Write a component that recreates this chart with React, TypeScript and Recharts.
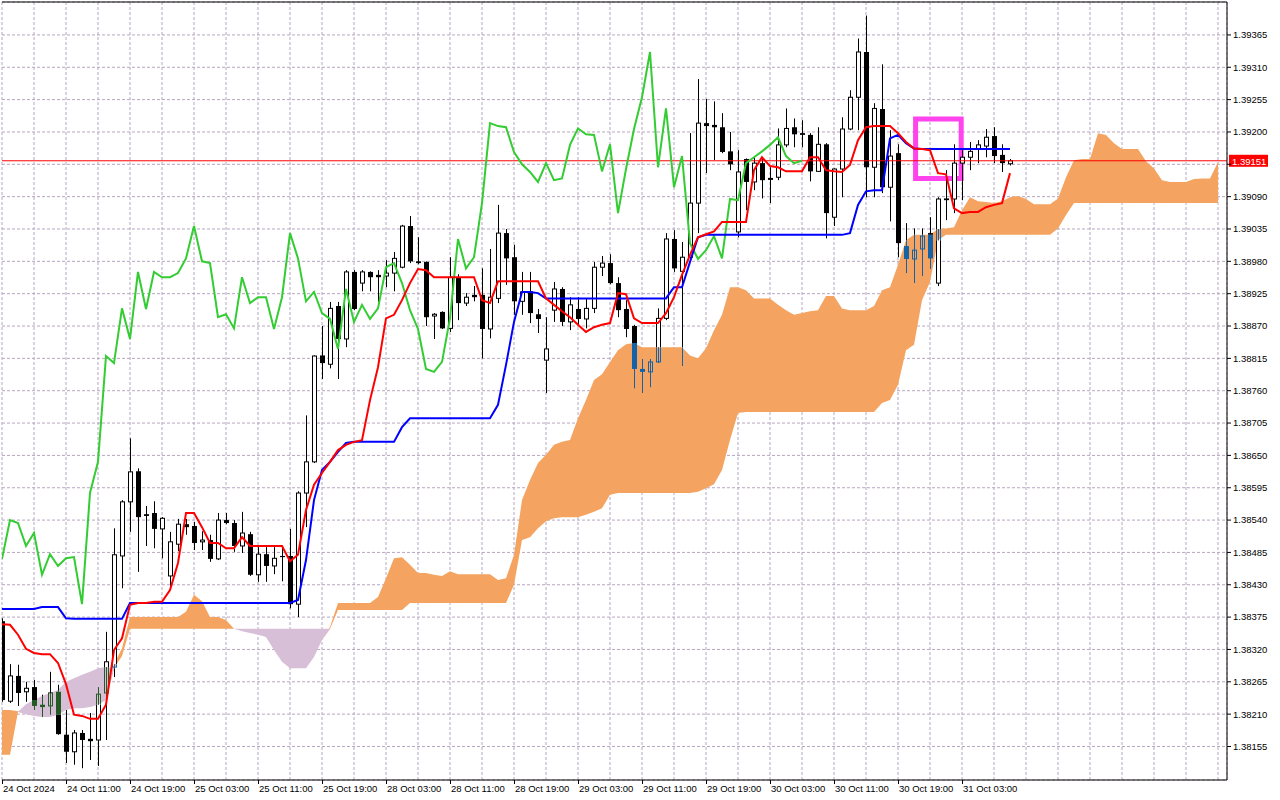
import React from "react";
import {
  ComposedChart,
  XAxis,
  YAxis,
  CartesianGrid,
  Bar,
  Line,
  Area,
  ReferenceLine,
  ReferenceArea,
} from "recharts";

// GBP-style H1 chart with Ichimoku, bars indexed from 24 Oct 03:00
const TIME_LABELS = [
  "24 Oct 2024", "24 Oct 11:00", "24 Oct 19:00", "25 Oct 03:00", "25 Oct 11:00", "25 Oct 19:00",
  "28 Oct 03:00", "28 Oct 11:00", "28 Oct 19:00", "29 Oct 03:00", "29 Oct 11:00", "29 Oct 19:00",
  "30 Oct 03:00", "30 Oct 11:00", "30 Oct 19:00", "31 Oct 03:00",
];

const PRICE_TICKS = [
  1.38155, 1.3821, 1.38265, 1.3832, 1.38375, 1.3843, 1.38485, 1.3854, 1.38595, 1.3865, 1.38705,
  1.3876, 1.38815, 1.3887, 1.38925, 1.3898, 1.39035, 1.3909, 1.39145, 1.392, 1.39255, 1.3931, 1.39365,
];

const OPEN = [
  1.38368, 1.38232, 1.38275, 1.38248, 1.38256, 1.38226, 1.38224, 1.38248, 1.38175, 1.38146,
  1.38178, 1.38168, 1.38166, 1.38246, 1.3829, 1.38479, 1.38571, 1.38623, 1.3855, 1.38552,
  1.38525, 1.38445, 1.38499, 1.38533, 1.3853, 1.38503, 1.38506, 1.38474, 1.3854, 1.38535,
  1.38496, 1.38516, 1.38447, 1.38482, 1.38462, 1.38479, 1.38479, 1.38397, 1.38586, 1.38639,
  1.3882, 1.38805, 1.38904, 1.38848, 1.38962, 1.38943, 1.38962, 1.38957, 1.38955, 1.3896,
  1.3897, 1.3904, 1.3898, 1.38979, 1.38887, 1.38894, 1.38866, 1.38953, 1.38909, 1.38923,
  1.38923, 1.38865, 1.38917, 1.39028, 1.38987, 1.38912, 1.38929, 1.3889, 1.38812, 1.38897,
  1.38933, 1.38877, 1.38899, 1.38882, 1.389, 1.3897, 1.38977, 1.38943, 1.38899, 1.3887,
  1.38797, 1.38792, 1.38809, 1.38883, 1.39018, 1.38963, 1.38987, 1.39079, 1.39215, 1.39212,
  1.39208, 1.39167, 1.3903, 1.39154, 1.39115, 1.39147, 1.3912, 1.39123, 1.39178, 1.39208,
  1.39198, 1.39195, 1.39133, 1.39179, 1.39055, 1.39137, 1.39205, 1.39259, 1.39336, 1.3914,
  1.39239, 1.39106, 1.39164, 1.39006, 1.38984, 1.39001, 1.39028, 1.38943, 1.39087, 1.39086,
  1.39147, 1.39157, 1.39171, 1.39176, 1.39193, 1.39161, 1.39146,
];

const HIGH = [
  1.38373, 1.38295, 1.38294, 1.38265, 1.38268, 1.38243, 1.38282, 1.3826, 1.38217, 1.38183,
  1.38183, 1.38212, 1.38256, 1.3835, 1.38526, 1.38574, 1.38679, 1.38628, 1.38564, 1.38572,
  1.38545, 1.3852, 1.38542, 1.38542, 1.38537, 1.38521, 1.38515, 1.38552, 1.38552, 1.3854,
  1.38554, 1.3852, 1.38494, 1.38494, 1.38494, 1.38494, 1.38525, 1.38589, 1.38718, 1.3882,
  1.3887, 1.38911, 1.38911, 1.38965, 1.38965, 1.38965, 1.38963, 1.38965, 1.38982, 1.38996,
  1.39042, 1.39057, 1.39021, 1.3898, 1.38892, 1.38895, 1.38987, 1.38958, 1.38926, 1.38938,
  1.38968, 1.39001, 1.39076, 1.39035, 1.39008, 1.38962, 1.38962, 1.38899, 1.38885, 1.38945,
  1.38936, 1.38919, 1.38919, 1.38917, 1.38979, 1.38989, 1.38992, 1.38953, 1.38914, 1.38872,
  1.38814, 1.38814, 1.389, 1.39028, 1.39033, 1.39013, 1.39198, 1.3929, 1.39256, 1.39252,
  1.39232, 1.392, 1.39169, 1.39155, 1.39157, 1.39155, 1.3914, 1.39206, 1.3924, 1.39223,
  1.3922, 1.39198, 1.39208, 1.39181, 1.39138, 1.39225, 1.39271, 1.39359, 1.39398, 1.39249,
  1.39315, 1.39203, 1.39179, 1.39045, 1.39036, 1.39036, 1.39055, 1.39089, 1.39135, 1.39179,
  1.39169, 1.39183, 1.39186, 1.39205, 1.39208, 1.39179, 1.39154,
];

const LOW = [
  1.38231, 1.38229, 1.38224, 1.38231, 1.38217, 1.38205, 1.38209, 1.38175, 1.38127, 1.38124,
  1.38118, 1.38132, 1.38122, 1.38166, 1.38273, 1.38424, 1.3852, 1.38452, 1.38496, 1.38492,
  1.38475, 1.38428, 1.38487, 1.38515, 1.38489, 1.38489, 1.38469, 1.38472, 1.38533, 1.38486,
  1.38484, 1.38445, 1.38435, 1.38435, 1.38448, 1.38436, 1.3839, 1.38375, 1.38528, 1.38637,
  1.3878, 1.38798, 1.3878, 1.38834, 1.38897, 1.38929, 1.38929, 1.38911, 1.38936, 1.38929,
  1.38968, 1.38977, 1.38975, 1.3887, 1.38848, 1.38865, 1.3886, 1.3888, 1.38904, 1.38912,
  1.38815, 1.38849, 1.38909, 1.3894, 1.38889, 1.38889, 1.38875, 1.38858, 1.38756, 1.38877,
  1.3887, 1.38863, 1.3887, 1.38866, 1.38892, 1.38955, 1.38941, 1.38885, 1.38851, 1.38764,
  1.38756, 1.38766, 1.38807, 1.3888, 1.38962, 1.38802, 1.38979, 1.39028, 1.3913, 1.39152,
  1.39164, 1.39135, 1.39021, 1.39067, 1.39101, 1.39087, 1.39079, 1.39118, 1.39174, 1.39174,
  1.39174, 1.39116, 1.39132, 1.39019, 1.3904, 1.39089, 1.39203, 1.39203, 1.39089, 1.39089,
  1.39096, 1.39048, 1.38987, 1.3896, 1.38943, 1.38955, 1.38967, 1.38938, 1.3905, 1.39062,
  1.39084, 1.39135, 1.39147, 1.39157, 1.39147, 1.39132, 1.39143,
];

const CLOSE = [
  1.38234, 1.38275, 1.38246, 1.38254, 1.38224, 1.38222, 1.38246, 1.38176, 1.38146, 1.38178,
  1.38166, 1.38164, 1.38244, 1.38299, 1.38481, 1.38571, 1.38622, 1.38545, 1.38547, 1.38525,
  1.38543, 1.38503, 1.38533, 1.38528, 1.38501, 1.38506, 1.38474, 1.3854, 1.38535, 1.38496,
  1.38518, 1.38447, 1.38482, 1.38462, 1.38475, 1.38477, 1.38397, 1.38586, 1.38639, 1.38819,
  1.38807, 1.389, 1.38848, 1.38962, 1.38899, 1.38962, 1.38953, 1.38953, 1.3896, 1.38985,
  1.3904, 1.3898, 1.38977, 1.38885, 1.3889, 1.38866, 1.38953, 1.38909, 1.38919, 1.38919,
  1.38865, 1.38919, 1.39028, 1.38985, 1.38912, 1.38928, 1.38892, 1.38882, 1.38831, 1.38933,
  1.38877, 1.38906, 1.38882, 1.389, 1.3897, 1.38977, 1.38943, 1.38897, 1.38865, 1.38797,
  1.38792, 1.38809, 1.38883, 1.39018, 1.38968, 1.38987, 1.39079, 1.39215, 1.3921, 1.39208,
  1.39166, 1.39145, 1.39132, 1.39115, 1.39147, 1.39118, 1.39121, 1.39178, 1.39206, 1.39196,
  1.39195, 1.39133, 1.39179, 1.39062, 1.39137, 1.39205, 1.39259, 1.39336, 1.3914, 1.3924,
  1.39106, 1.39159, 1.39011, 1.38984, 1.38999, 1.39023, 1.38985, 1.39086, 1.39084, 1.39147,
  1.39157, 1.39167, 1.39178, 1.39191, 1.39159, 1.39147, 1.39151,
];

const TENKAN = [
  1.38363, 1.38362, 1.38345, 1.38321, 1.38314, 1.38312, 1.38312, 1.38297, 1.38261, 1.38209,
  1.38207, 1.38202, 1.38202, 1.38226, 1.38319, 1.38339, 1.38396, 1.38399, 1.38399, 1.38401,
  1.38401, 1.38421, 1.38467, 1.38552, 1.38552, 1.38528, 1.38501, 1.38501, 1.38492, 1.38492,
  1.38511, 1.38496, 1.38496, 1.38496, 1.38496, 1.38496, 1.3847, 1.38481, 1.38557, 1.386,
  1.3862, 1.38639, 1.38659, 1.38668, 1.38673, 1.38676, 1.38744, 1.388, 1.38883, 1.38889,
  1.38914, 1.38943, 1.38967, 1.38965, 1.38953, 1.38953, 1.38953, 1.38953, 1.38953, 1.38953,
  1.38914, 1.38909, 1.38946, 1.38946, 1.38946, 1.38946, 1.38946, 1.38946, 1.38917, 1.38906,
  1.38895, 1.38885, 1.38872, 1.3886, 1.38868, 1.38872, 1.38875, 1.38926, 1.38924, 1.38883,
  1.38875, 1.38875, 1.38875, 1.38892, 1.38919, 1.38957, 1.38991, 1.39021, 1.39026, 1.39031,
  1.39047, 1.39047, 1.39047, 1.39047, 1.39135, 1.39157, 1.39142, 1.3914, 1.39133, 1.39133,
  1.39133, 1.39157, 1.39157, 1.39135, 1.39133, 1.39132, 1.39144, 1.39186, 1.39208, 1.3921,
  1.3921, 1.3921, 1.39198, 1.39183, 1.39172, 1.39171, 1.39169, 1.3913, 1.39128, 1.3907,
  1.39062, 1.39064, 1.39064, 1.39072, 1.39076, 1.39079, 1.3913,
];

const KIJUN = [
  1.38389, 1.38389, 1.38389, 1.38389, 1.38389, 1.38392, 1.38392, 1.38392, 1.38373, 1.38372,
  1.38372, 1.38372, 1.38372, 1.38372, 1.38372, 1.38372, 1.38399, 1.38399, 1.38399, 1.38399,
  1.38399, 1.38399, 1.38399, 1.38399, 1.38399, 1.38399, 1.38399, 1.38399, 1.38399, 1.38399,
  1.38399, 1.38399, 1.38399, 1.38399, 1.38399, 1.38399, 1.38399, 1.38404, 1.38472, 1.38574,
  1.38625, 1.38639, 1.38656, 1.38671, 1.38673, 1.38673, 1.38673, 1.38673, 1.38673, 1.38673,
  1.38698, 1.38713, 1.38713, 1.38713, 1.38713, 1.38713, 1.38713, 1.38713, 1.38713, 1.38713,
  1.38713, 1.38713, 1.38736, 1.38804, 1.38877, 1.38928, 1.38928, 1.38926, 1.38917, 1.38917,
  1.38917, 1.38917, 1.38917, 1.38917, 1.38917, 1.38917, 1.38917, 1.38917, 1.38917, 1.38917,
  1.38917, 1.38917, 1.38917, 1.38917, 1.38936, 1.38936, 1.38979, 1.39021, 1.39025, 1.39025,
  1.39025, 1.39025, 1.39025, 1.39025, 1.39025, 1.39025, 1.39025, 1.39025, 1.39025, 1.39025,
  1.39025, 1.39025, 1.39025, 1.39025, 1.39025, 1.39025, 1.39028, 1.39076, 1.39099, 1.39101,
  1.39101, 1.39189, 1.39195, 1.39181, 1.39172, 1.39171, 1.39171, 1.39171, 1.39171, 1.39171,
  1.39171, 1.39171, 1.39171, 1.39171, 1.39171, 1.39171, 1.39171,
];

// Senkou spans run 26 bars past the last candle
const SPAN_A = [
  1.38217, 1.38217, 1.38215, 1.3821, 1.38207, 1.38205, 1.38205, 1.38209, 1.38217, 1.3822,
  1.3822, 1.38222, 1.38226, 1.38234, 1.38295, 1.38322, 1.38375, 1.38375, 1.38375, 1.38375,
  1.38375, 1.38375, 1.38375, 1.38384, 1.38413, 1.38402, 1.38375, 1.38375, 1.3837, 1.38355,
  1.38351, 1.38348, 1.38345, 1.38341, 1.38319, 1.38299, 1.38288, 1.38288, 1.38288, 1.38307,
  1.38336, 1.38358, 1.38399, 1.38399, 1.38399, 1.38399, 1.38399, 1.38409, 1.38441, 1.38475,
  1.38477, 1.38464, 1.3845, 1.3845, 1.38447, 1.38445, 1.38453, 1.38448, 1.38448, 1.38448,
  1.38448, 1.38448, 1.38438, 1.38441, 1.38481, 1.38574, 1.38608, 1.38637, 1.38651, 1.38668,
  1.38673, 1.38676, 1.38713, 1.38744, 1.38778, 1.38788, 1.38809, 1.38829, 1.38839, 1.38841,
  1.38834, 1.38834, 1.38834, 1.38834, 1.38834, 1.38834, 1.3882, 1.38815, 1.38832, 1.38863,
  1.38889, 1.38936, 1.38936, 1.38931, 1.38917, 1.38917, 1.38917, 1.38906, 1.38897, 1.38889,
  1.38892, 1.38895, 1.38897, 1.38921, 1.38921, 1.389, 1.38897, 1.38897, 1.38897, 1.38904,
  1.38931, 1.38936, 1.38974, 1.39016, 1.39025, 1.39025, 1.39025, 1.39035, 1.39036, 1.39038,
  1.39067, 1.39089, 1.39082, 1.39081, 1.39079, 1.39082, 1.39089, 1.39091, 1.39086, 1.39077,
  1.39077, 1.39077, 1.39087, 1.39123, 1.39152, 1.39154, 1.39154, 1.39198, 1.39195, 1.39181,
  1.39171, 1.39171, 1.39171, 1.3915, 1.39138, 1.39118, 1.39115, 1.39115, 1.39115, 1.3912,
  1.39121, 1.39121, 1.39149,
];

const SPAN_B = [
  1.38141, 1.38141, 1.38214, 1.38227, 1.38234, 1.38241, 1.38246, 1.38251, 1.38265, 1.38271,
  1.38277, 1.38282, 1.38288, 1.3829, 1.38288, 1.38309, 1.38355, 1.38355, 1.38355, 1.38355,
  1.38355, 1.38355, 1.38355, 1.38355, 1.38355, 1.38355, 1.38355, 1.38355, 1.38355, 1.38355,
  1.38355, 1.38355, 1.38355, 1.38355, 1.38355, 1.38355, 1.38355, 1.38355, 1.38355, 1.38355,
  1.38355, 1.38355, 1.38387, 1.38387, 1.38387, 1.38387, 1.38387, 1.38387, 1.38387, 1.38387,
  1.38387, 1.38399, 1.38399, 1.38399, 1.38399, 1.38399, 1.38399, 1.38399, 1.38399, 1.38399,
  1.38399, 1.38399, 1.38399, 1.38399, 1.3843, 1.38506, 1.38511, 1.38526, 1.38538, 1.38543,
  1.38545, 1.38545, 1.38545, 1.38549, 1.38554, 1.3856, 1.38583, 1.38586, 1.38586, 1.38586,
  1.38586, 1.38586, 1.38586, 1.38586, 1.38586, 1.38586, 1.38586, 1.38588, 1.38594, 1.38601,
  1.38625, 1.38676, 1.38722, 1.38724, 1.38724, 1.38724, 1.38724, 1.38724, 1.38724, 1.38724,
  1.38724, 1.38724, 1.38724, 1.38724, 1.38724, 1.38724, 1.38724, 1.38724, 1.38724, 1.38724,
  1.38739, 1.38744, 1.3877, 1.38829, 1.38838, 1.38914, 1.38945, 1.39016, 1.39025, 1.39025,
  1.39025, 1.39025, 1.39025, 1.39025, 1.39025, 1.39025, 1.39025, 1.39025, 1.39025, 1.39025,
  1.39025, 1.39025, 1.39036, 1.39059, 1.39079, 1.39079, 1.39079, 1.39079, 1.39079, 1.39079,
  1.39079, 1.39079, 1.39079, 1.39079, 1.39079, 1.39079, 1.39079, 1.39079, 1.39079, 1.39079,
  1.39079, 1.39079, 1.39079,
];

const CHIKOU_SHIFT = 26;
const BID = 1.39151;
const MARK_BOX = { fromBar: 114.2, toBar: 119.9, low: 1.39121, high: 1.39222 };

const Y_MIN = 1.38098;
const Y_MAX = 1.39421;
const X_MAX = 153.125;
const FONT = "'Liberation Sans', Arial, sans-serif";

const GRID_BARS = Array.from({ length: 39 }, (_, k) => k * 4);

const data = SPAN_A.map((a, i) => {
  const b = SPAN_B[i];
  const hasCandle = i < CLOSE.length;
  return {
    i,
    range: hasCandle ? [LOW[i], HIGH[i]] : null,
    o: hasCandle ? OPEN[i] : null,
    h: hasCandle ? HIGH[i] : null,
    l: hasCandle ? LOW[i] : null,
    c: hasCandle ? CLOSE[i] : null,
    tenkan: hasCandle ? TENKAN[i] : null,
    kijun: hasCandle ? KIJUN[i] : null,
    chikou: i + CHIKOU_SHIFT < CLOSE.length ? CLOSE[i + CHIKOU_SHIFT] : null,
    bull: a >= b ? [b, a] : [a, a],
    bear: b > a ? [a, b] : [b, b],
    a,
    b,
  };
});

const CandleShape = (props: any) => {
  const { x, y, width, height, payload } = props;
  if (!payload || payload.o == null) return null;
  const { o, h, l, c, a, b, i } = payload;
  const top = Math.min(y, y + height);
  const span = Math.abs(height);
  const toPx = (v: number) => top + ((h - v) / (h - l)) * span;
  const cx = Math.round(x + width / 2);
  const up = c >= o;
  const yo = toPx(o);
  const yc = toPx(c);
  const bodyTop = Math.min(yo, yc);
  const bodyH = Math.max(Math.abs(yc - yo), 1);

  const draw = (color: string, hollow: string) => (
    <g>
      <line x1={cx + 0.5} x2={cx + 0.5} y1={top} y2={top + span} stroke={color} strokeWidth={1} />
      {up ? (
        <rect x={cx - 1.5} y={bodyTop} width={4} height={bodyH} fill={hollow} stroke={color} strokeWidth={1} />
      ) : (
        <rect x={cx - 2} y={bodyTop} width={5} height={bodyH} fill={color} />
      )}
    </g>
  );

  // the part of a candle inside the cloud is drawn in a tint, as the terminal does
  const cloudTop = toPx(Math.max(a, b));
  const cloudBot = toPx(Math.min(a, b));
  if (!(cloudBot > top && cloudTop < top + span)) return draw("#000", "#fff");

  const tint = a >= b ? "#1463a8" : "#245a24";
  const lo = top - 4;
  const hi = top + span + 4;
  return (
    <g>
      <defs>
        <clipPath id={`cout-${i}`}>
          <rect x={cx - 5} y={lo} width={11} height={Math.max(0, cloudTop - lo)} />
          <rect x={cx - 5} y={cloudBot} width={11} height={Math.max(0, hi - cloudBot)} />
        </clipPath>
        <clipPath id={`cin-${i}`}>
          <rect x={cx - 5} y={cloudTop} width={11} height={Math.max(0, cloudBot - cloudTop)} />
        </clipPath>
      </defs>
      <g clipPath={`url(#cout-${i})`}>{draw("#000", "#fff")}</g>
      <g clipPath={`url(#cin-${i})`}>{draw(tint, "none")}</g>
    </g>
  );
};

const XTick = (props: any) => {
  const { x, y, payload } = props;
  const k = payload.value / 8;
  const label = Number.isInteger(k) ? TIME_LABELS[k] : undefined;
  if (!label) return null;
  return (
    <g>
      <line x1={x + 0.5} x2={x + 0.5} y1={y} y2={y + 4} stroke="#000" />
      <text x={x + 1} y={y + 12} fontSize={9.5} fontFamily={FONT} fill="#000">
        {label}
      </text>
    </g>
  );
};

// the bid box sits over the nearest price label, so that label is left blank
const priceLabel = (v: number) => (Math.abs(v - BID) < 0.0002 ? "" : v.toFixed(5));

const BidLabel = (props: any) => {
  const vb = props.viewBox || {};
  const left = vb.x + vb.width + 2;
  return (
    <g>
      <rect x={left} y={vb.y - 6} width={39} height={12} fill="#ff0000" />
      <text x={left + 3} y={vb.y + 4} fontSize={9.5} fontFamily={FONT} fill="#fff">
        {BID.toFixed(5)}
      </text>
    </g>
  );
};

export default function App() {
  return (
    <div style={{ position: "absolute", left: 0, top: 0, background: "#fff" }}>
      <ComposedChart
        width={1280}
        height={800}
        data={data}
        margin={{ top: 2, right: 0, bottom: 0, left: 2 }}
        style={{ fontFamily: FONT }}
      >
        <CartesianGrid stroke="#b8a6c0" strokeDasharray="3 2" />
        <XAxis
          dataKey="i"
          type="number"
          domain={[0, X_MAX]}
          allowDataOverflow
          ticks={GRID_BARS}
          interval={0}
          height={20}
          tickLine={false}
          tickSize={0}
          tickMargin={0}
          tick={<XTick />}
          axisLine={{ stroke: "#000" }}
        />
        <YAxis
          orientation="right"
          domain={[Y_MIN, Y_MAX]}
          allowDataOverflow
          ticks={PRICE_TICKS}
          interval={0}
          width={53}
          tickSize={4}
          tickMargin={2}
          tickLine={{ stroke: "#000" }}
          axisLine={{ stroke: "#000" }}
          tick={{ fontSize: 9.5, fontFamily: FONT, fill: "#000" }}
          tickFormatter={priceLabel}
        />
        <ReferenceLine y={Y_MAX} stroke="#000" ifOverflow="visible" />
        <Area
          dataKey="bull"
          type="linear"
          stroke="none"
          fill="#f4a460"
          fillOpacity={1}
          isAnimationActive={false}
          activeDot={false}
        />
        <Area
          dataKey="bear"
          type="linear"
          stroke="none"
          fill="#d8bfd8"
          fillOpacity={1}
          isAnimationActive={false}
          activeDot={false}
        />
        <ReferenceLine y={BID} stroke="#ff0000" strokeWidth={1} label={<BidLabel />} />
        <Bar dataKey="range" barSize={5} shape={<CandleShape />} isAnimationActive={false} />
        <Line dataKey="chikou" type="linear" stroke="#33cc33" strokeWidth={2} dot={false} isAnimationActive={false} />
        <Line dataKey="kijun" type="linear" stroke="#0000ff" strokeWidth={2} dot={false} isAnimationActive={false} />
        <Line dataKey="tenkan" type="linear" stroke="#ff0000" strokeWidth={2} dot={false} isAnimationActive={false} />
        <ReferenceArea
          x1={MARK_BOX.fromBar}
          x2={MARK_BOX.toBar}
          y1={MARK_BOX.low}
          y2={MARK_BOX.high}
          fill="none"
          fillOpacity={0}
          stroke="#ff44ee"
          strokeWidth={5}
        />
      </ComposedChart>
    </div>
  );
}
